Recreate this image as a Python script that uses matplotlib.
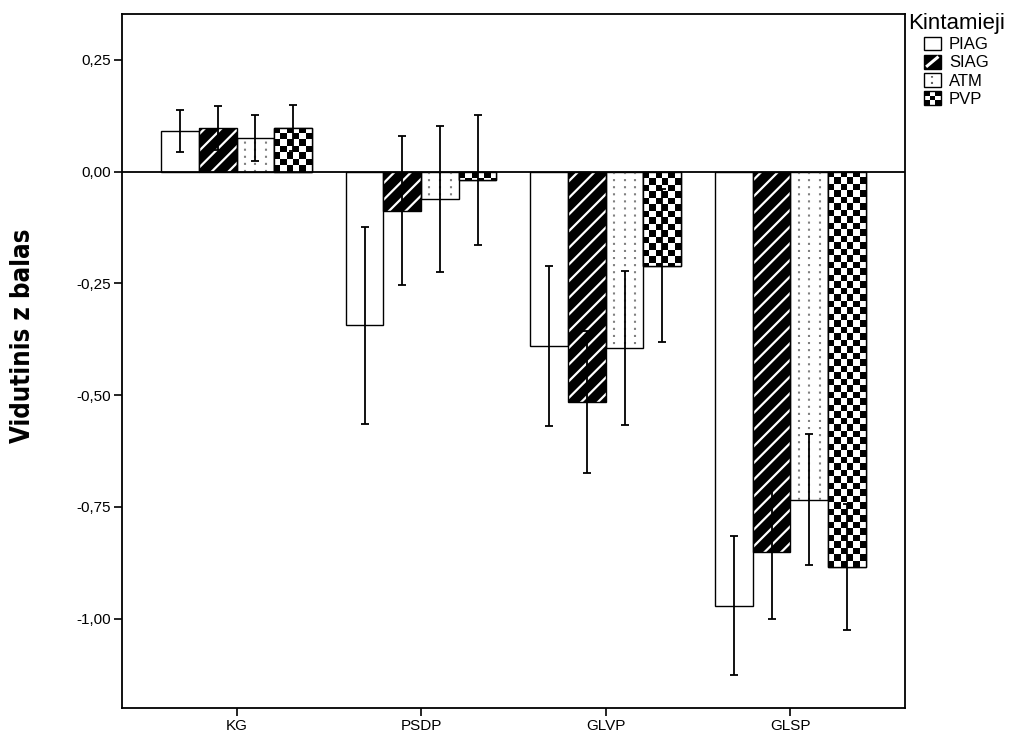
import numpy as np
import matplotlib
matplotlib.use("Agg")
import matplotlib.pyplot as plt
from matplotlib.patches import Rectangle
from matplotlib.legend_handler import HandlerBase
from matplotlib.lines import Line2D

plt.rcParams['font.family'] = ['Liberation Sans', 'DejaVu Sans']

categories = ["KG", "PSDP", "GLVP", "GLSP"]
series = ["PIAG", "SIAG", "ATM", "PVP"]
piag = [0.092, -0.344, -0.389, -0.971]
piag_err = [0.047, 0.220, 0.179, 0.155]
siag = [0.098, -0.087, -0.515, -0.851]
siag_err = [0.050, 0.166, 0.159, 0.150]
atm = [0.076, -0.061, -0.394, -0.734]
atm_err = [0.051, 0.164, 0.172, 0.147]
pvp = [0.098, -0.018, -0.210, -0.884]
pvp_err = [0.052, 0.145, 0.171, 0.141]
yticks = [0.25, 0.0, -0.25, -0.5, -0.75, -1.0]

fig = plt.figure(figsize=(10.22, 7.4), dpi=100)
ax = fig.add_axes([0.1194, 0.0432, 0.766, 0.938])

x = np.arange(len(categories))
w = 0.204
offs = (np.arange(4) - 1.5) * w
ekw = dict(fmt="none", ecolor="black", elinewidth=1.3, capsize=3, capthick=1.3, zorder=5)

# PIAG: plain white
ax.bar(x + offs[0], piag, w, facecolor="white", edgecolor="black", linewidth=1.0, zorder=2)
ax.errorbar(x + offs[0], piag, yerr=piag_err, **ekw)

# SIAG: black with white diagonal stripes
plt.rcParams['hatch.linewidth'] = 1.6
ax.bar(x + offs[1], siag, w, facecolor="black", edgecolor="white", hatch="//", linewidth=0, zorder=2)
ax.bar(x + offs[1], siag, w, fill=False, edgecolor="black", linewidth=1.0, zorder=3)
ax.errorbar(x + offs[1], siag, yerr=siag_err, **ekw)

# ATM: white with dotted vertical lines
bars_atm = ax.bar(x + offs[2], atm, w, facecolor="white", edgecolor="black", linewidth=1.0, zorder=2)
for b in bars_atm:
    for f in (0.22, 0.5, 0.78):
        ax.vlines(b.get_x() + f * b.get_width(), 0, b.get_height(), colors="0.5",
                  linestyles=(0, (1.0, 2.4)), linewidth=1.5, zorder=2.5)
ax.errorbar(x + offs[2], atm, yerr=atm_err, **ekw)

# PVP: checkerboard
bars_pvp = ax.bar(x + offs[3], pvp, w, facecolor="white", edgecolor="black", linewidth=1.0, zorder=2)
cy = 0.0145
for b in bars_pvp:
    h = b.get_height()
    nr = int(np.ceil(abs(h) / cy)) + 1
    board = np.indices((nr, 6)).sum(0) % 2
    x0 = b.get_x()
    if h < 0:
        ext = (x0, x0 + b.get_width(), -nr * cy, 0)
    else:
        ext = (x0, x0 + b.get_width(), 0, nr * cy)
        board = board[::-1]
    im = ax.imshow(board, cmap="gray", extent=ext, aspect="auto", interpolation="nearest",
                   origin="upper", zorder=2.2)
    im.set_clip_path(b)
ax.bar(x + offs[3], pvp, w, fill=False, edgecolor="black", linewidth=1.0, zorder=3)
ax.errorbar(x + offs[3], pvp, yerr=pvp_err, **ekw)

ax.set_xlim(-0.62, 3.62)
ax.set_ylim(-1.2, 0.353)
ax.axhline(0, color="black", linewidth=1.3, zorder=4)

ax.set_xticks(x)
ax.set_xticklabels(categories, fontsize=11)
ax.set_yticks(yticks)
ax.set_yticklabels([f"{v:.2f}".replace(".", ",") for v in yticks], fontsize=11)
ax.tick_params(axis="both", length=6, width=1.2, color="black", pad=2)
for s in ax.spines.values():
    s.set_linewidth(1.3)
ax.set_ylabel("Vidutinis z balas", fontsize=18.5, fontweight="bold", fontstretch="condensed",
              family=["DejaVu Sans"])
ax.yaxis.set_label_coords(-0.11, 0.537)


class CheckerHandler(HandlerBase):
    def create_artists(self, legend, orig, xd, yd, width, height, fontsize, trans):
        arts = [Rectangle((-xd, -yd), width, height, facecolor="white", edgecolor="none", transform=trans)]
        n = 3
        for i in range(n):
            for j in range(n):
                if (i + j) % 2 == 0:
                    arts.append(Rectangle((-xd + i * width / n, -yd + j * height / n), width / n, height / n,
                                          facecolor="black", edgecolor="none", transform=trans))
        arts.append(Rectangle((-xd, -yd), width, height, fill=False, edgecolor="black", lw=1.0, transform=trans))
        return arts


class DotHandler(HandlerBase):
    def create_artists(self, legend, orig, xd, yd, width, height, fontsize, trans):
        r = Rectangle((-xd, -yd), width, height, facecolor="white", edgecolor="black", lw=1.0, transform=trans)
        ln = Line2D([-xd + width / 2] * 2, [-yd + 2, -yd + height - 2], color="0.4", lw=1.5,
                    linestyle=(0, (1.0, 2.0)), transform=trans)
        return [r, ln]


class StripeHandler(HandlerBase):
    def create_artists(self, legend, orig, xd, yd, width, height, fontsize, trans):
        r = Rectangle((-xd, -yd), width, height, facecolor="black", edgecolor="black", lw=1.0, transform=trans)
        ln = Line2D([-xd + width * 0.2, -xd + width * 0.8], [-yd + height * 0.2, -yd + height * 0.8],
                    color="white", lw=2.2, transform=trans)
        return [r, ln]


h_piag = Rectangle((0, 0), 1, 1, facecolor="white", edgecolor="black", lw=1.0)
h_siag = object()
h_atm = object()
h_pvp = object()
leg = fig.legend([h_piag, h_siag, h_atm, h_pvp], series, title="Kintamieji",
                 loc="upper left", bbox_to_anchor=(0.877, 0.998), frameon=False,
                 fontsize=12, title_fontsize=16, handlelength=1.0, handleheight=0.9,
                 handletextpad=0.5, labelspacing=0.15, alignment="center", borderpad=0.2,
                 handler_map={h_siag: StripeHandler(), h_atm: DotHandler(), h_pvp: CheckerHandler()})

fig.savefig("out.png", dpi=100)
